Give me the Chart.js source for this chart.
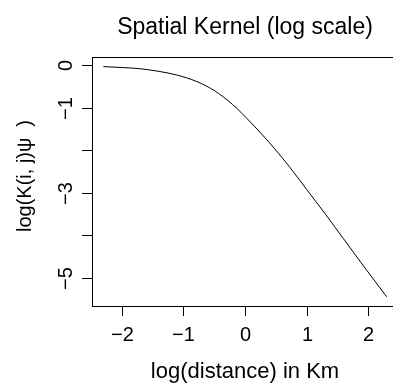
<!DOCTYPE html>
<html>
<head>
<meta charset="utf-8">
<script src="https://cdn.jsdelivr.net/npm/chart.js@4.4.1/dist/chart.umd.min.js"></script>
<style>
  html, body { margin: 0; padding: 0; background: #fff; }
  #wrap { width: 393px; height: 388px; overflow: hidden; position: relative; }
  canvas { position: absolute; left: 0; top: 0; }
</style>
</head>
<body>
<div id="wrap"><canvas id="kernel" width="400" height="388"></canvas></div>
<script>
// ===== DATA =====
const logDistance = [-2.3, -2.0, -1.7, -1.4, -1.1, -0.8, -0.5, -0.2, 0.1, 0.4, 0.7, 1.0, 1.3, 1.6, 1.9, 2.3];
const logKernel   = [-0.04, -0.06, -0.09, -0.15, -0.24, -0.38, -0.60, -0.93, -1.36, -1.83, -2.35, -2.92, -3.49, -4.08, -4.67, -5.44];

const xTicks = [-2, -1, 0, 1, 2];
const yTicks = [0, -1, -2, -3, -4, -5];
const yTickLabels = ['0', '\u22121', '', '\u22123', '', '\u22125'];

const titleText = 'Spatial Kernel (log scale)';
const xTitle = 'log(distance) in Km';
const yTitle = 'log(K(i, j)\u03C8  )';

const FONT = '"Liberation Sans", Arial, sans-serif';

function minus(v) {
    return String(v).replace('-', '\u2212');
}

// R-style box, ticks and labels drawn on top of the library scales
const rAxes = {
    id: 'rAxes',
    afterDraw(chart) {
        const ctx = chart.ctx;
        const area = chart.chartArea;
        const xs = chart.scales.x;
        const ys = chart.scales.y;
        const tick = 10;

        ctx.save();
        ctx.strokeStyle = '#000';
        ctx.lineWidth = 1;
        ctx.strokeRect(area.left + 0.5, area.top + 0.5, area.right - area.left, area.bottom - area.top);

        ctx.fillStyle = '#000';
        ctx.font = '20px ' + FONT;

        // x axis
        ctx.textAlign = 'center';
        ctx.textBaseline = 'alphabetic';
        xTicks.forEach(v => {
            const px = Math.round(xs.getPixelForValue(v)) + 0.5;
            ctx.beginPath();
            ctx.moveTo(px, area.bottom);
            ctx.lineTo(px, area.bottom + tick);
            ctx.stroke();
            ctx.fillText(minus(v), px, 341);
        });

        // y axis (rotated labels like R)
        yTicks.forEach((v, i) => {
            const py = Math.round(ys.getPixelForValue(v)) + 0.5;
            ctx.beginPath();
            ctx.moveTo(area.left, py);
            ctx.lineTo(area.left - tick, py);
            ctx.stroke();
            if (yTickLabels[i]) {
                ctx.save();
                ctx.translate(72, py);
                ctx.rotate(-Math.PI / 2);
                ctx.fillText(yTickLabels[i], 0, 0);
                ctx.restore();
            }
        });

        // axis titles
        ctx.save();
        ctx.translate(31, 176);
        ctx.rotate(-Math.PI / 2);
        ctx.fillText(yTitle, 0, 0);
        ctx.restore();
        ctx.font = '22px ' + FONT;
        ctx.fillText(xTitle, (area.left + area.right) / 2, 378);

        // main title
        ctx.font = '23px ' + FONT;
        ctx.fillText(titleText, (area.left + area.right) / 2, 34);
        ctx.restore();
    }
};

new Chart(document.getElementById('kernel'), {
    type: 'line',
    data: {
        datasets: [{
            data: logDistance.map((x, i) => ({ x: x, y: logKernel[i] })),
            borderColor: '#000',
            borderWidth: 1,
            pointRadius: 0,
            fill: false,
            cubicInterpolationMode: 'monotone'
        }]
    },
    options: {
        responsive: false,
        animation: false,
        devicePixelRatio: 1,
        layout: { padding: { left: 92, top: 57, right: 2, bottom: 82 } },
        scales: {
            x: { type: 'linear', min: -2.484, max: 2.484, display: false },
            y: { type: 'linear', min: -5.656, max: 0.186, display: false }
        },
        plugins: {
            legend: { display: false },
            tooltip: { enabled: false },
            title: { display: false }
        }
    },
    plugins: [rAxes]
});
</script>
</body>
</html>
